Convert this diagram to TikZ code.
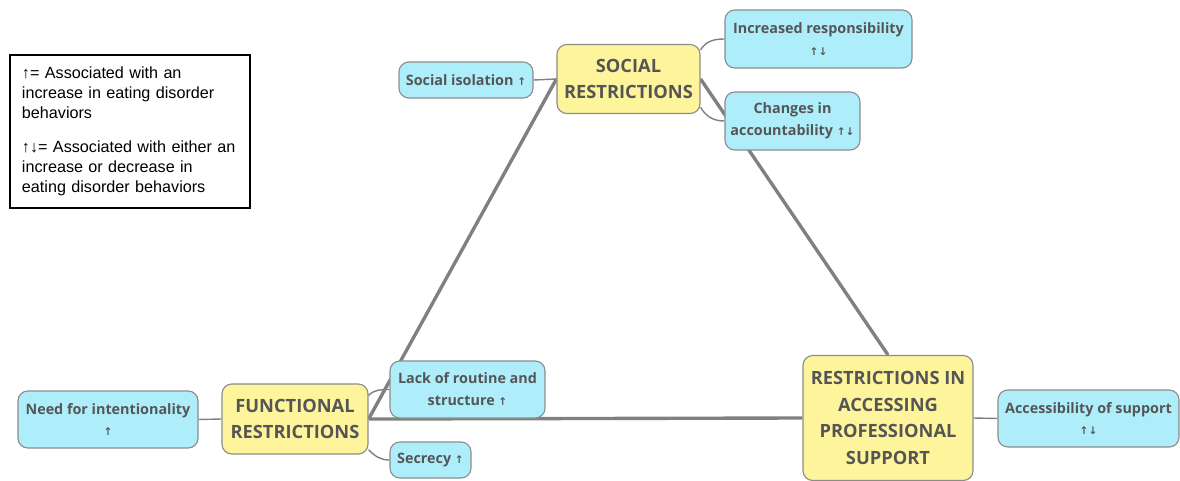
\documentclass[tikz,border=0pt]{standalone}
\usepackage{fontspec}
\setmainfont{Open Sans}
\newfontfamily\keyfont{Liberation Sans}
\newfontfamily\arrowfont{DejaVu Sans}
\usetikzlibrary{backgrounds}

\definecolor{topicfill}{HTML}{FDF49C}
\definecolor{leaffill}{HTML}{AEEEFB}
\definecolor{boxline}{HTML}{8C8C8C}
\definecolor{labelgray}{HTML}{555555}

\newcommand{\arrup}{{\arrowfont\fontsize{7.5}{7.5}\selectfont ↑}}
\newcommand{\arrupdown}{{\arrowfont\fontsize{7.5}{7.5}\selectfont ↑↓}}

\begin{document}
\begin{tikzpicture}[x=0.025cm, y=-0.025cm,
  topic/.style={draw=boxline, fill=topicfill, line width=0.8pt, rounded corners=7pt,
    align=center, text=labelgray, font=\bfseries\fontsize{13}{19}\selectfont, inner sep=2pt},
  leaf/.style={draw=boxline, fill=leaffill, line width=0.8pt, rounded corners=7pt,
    align=center, text=labelgray, font=\bfseries\fontsize{10.2}{15.6}\selectfont, inner sep=2pt},
  trunk/.style={draw=gray, line width=2.4pt},
  branch/.style={draw=gray, line width=1pt},
]

\useasboundingbox (0,0) rectangle (1180,481);

% legend
\node[draw=black, line width=1pt, minimum width=6cm, minimum height=3.825cm,
  text width=5.4cm, align=left, font=\keyfont\fontsize{11.5}{14.2}\selectfont]
  (key) at (130,131.5)
  {↑= Associated with an\\increase in eating disorder\\behaviors\\[0.35cm]
   ↑↓= Associated with either an\\increase or decrease in\\eating disorder behaviors};

% main topics
\node[topic, minimum width=3.575cm, minimum height=1.725cm] (social) at (628.5,79) {SOCIAL\\RESTRICTIONS};
\node[topic, minimum width=3.65cm, minimum height=1.75cm] (functional) at (295,419) {FUNCTIONAL\\RESTRICTIONS};
\node[topic, minimum width=4.25cm, minimum height=3.125cm] (access) at (888,418)
  {RESTRICTIONS IN\\ACCESSING\\PROFESSIONAL\\SUPPORT};

% subtopics
\node[leaf, minimum width=3.35cm, minimum height=0.9cm] (isolation) at (466,80) {Social isolation \arrup};
\node[leaf, minimum width=4.675cm, minimum height=1.45cm] (responsibility) at (818.5,39) {Increased responsibility\\\arrupdown};
\node[leaf, minimum width=3.375cm, minimum height=1.45cm] (accountability) at (792.5,121) {Changes in\\accountability \arrupdown};
\node[leaf, minimum width=4.5cm, minimum height=1.425cm] (intention) at (108,419.5) {Need for intentionality\\\arrup};
\node[leaf, minimum width=3.875cm, minimum height=1.425cm] (routine) at (467.5,389.5) {Lack of routine and\\structure \arrup};
\node[leaf, minimum width=2.025cm, minimum height=0.9cm] (secrecy) at (430.5,460) {Secrecy \arrup};
\node[leaf, minimum width=4.525cm, minimum height=1.425cm] (support) at (1088.5,418.5) {Accessibility of support\\\arrupdown};

% connectors
\begin{scope}[on background layer]
\draw[trunk] (functional.east) -- (social.west);
\draw[trunk] (social.east) -- (access.north);
\draw[trunk] (functional.east) -- (access.west);

\draw[branch] (isolation.east) -- (social.west);
\draw[branch] ([yshift=-0.15cm]social.north east) to[out=60, in=180] (responsibility.west);
\draw[branch] ([yshift=0.17cm]social.south east) to[out=-60, in=180] (accountability.west);
\draw[branch] (intention.east) -- (functional.west);
\draw[branch] ([yshift=-0.3cm]functional.north east) to[out=45, in=180] (routine.west);
\draw[branch] ([yshift=0.12cm]functional.south east) to[out=-45, in=180] (secrecy.west);
\draw[branch] (access.east) -- (support.west);
\end{scope}

\end{tikzpicture}
\end{document}
